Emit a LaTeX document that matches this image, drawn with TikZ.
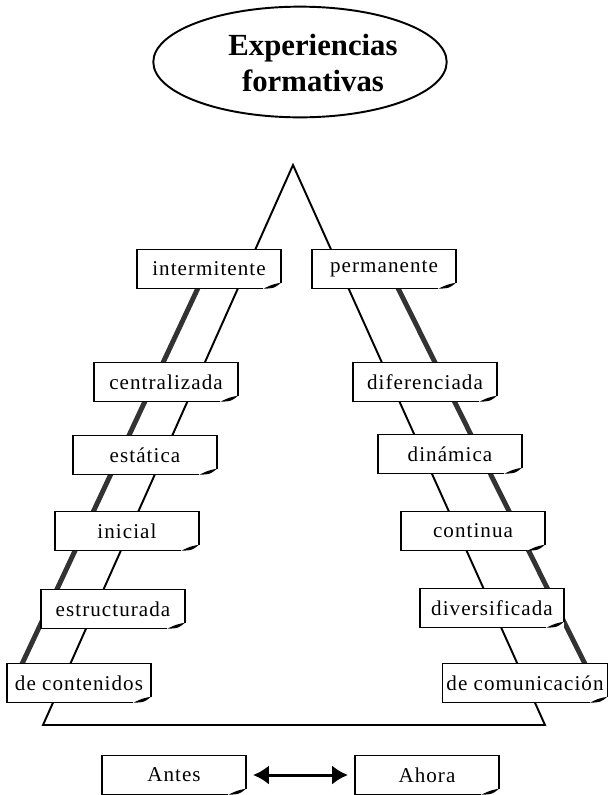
\documentclass[tikz,border=0pt]{standalone}
\usepackage{fontspec}
\setmainfont{Liberation Serif}
\newfontfamily\boxfont[LetterSpace=5]{Liberation Serif}
\usetikzlibrary{arrows.meta,calc,positioning,shapes.geometric}

\begin{document}
\begin{tikzpicture}[x=0.02cm,y=-0.02cm,
        notebox/.style={rectangle, fill=white, minimum width=81.6pt, minimum height=22pt,
            inner xsep=2pt, font=\boxfont\fontsize{12}{14}\selectfont},
        boxline/.style={line width=0.85pt, line join=miter},
        sideline/.style={line width=1.1pt, line join=miter},
        railline/.style={line width=2.8pt, black!80}]
            \useasboundingbox (0,0) rectangle (608,795);

            % Title
            \node[ellipse, draw, line width=1.1pt, minimum width=167pt, minimum height=63pt] (title) at (300,62) {};
            \node[align=center, font=\bfseries\fontsize{17.5}{21}\selectfont] (titletext) at (313,63) {Experiencias\\formativas};

            % Triangle with the two thick rails
            \coordinate (apex) at (293,165);
            \coordinate (baseL) at (43,725);
            \coordinate (baseR) at (545,725);
            \draw[sideline] (apex) -- (baseL) -- (baseR) -- cycle;
            \draw[railline] (200.8,282) -- (20.1,668);
            \draw[railline] (395,282) -- (587,668);

            % Boxes with curled corner
            \foreach \nm/\x/\y/\txt in {intermitente/209/269/intermitente, permanente/384/269/permanente,
                    centralizada/166/382/centralizada, diferenciada/425/382/diferenciada,
                    estatica/145/455/estática, dinamica/450/454/dinámica,
                    inicial/127/531/inicial, continua/473/531/continua,
                    estructurada/113/609/estructurada, diversificada/492/608/diversificada,
                    contenidos/79/683/de contenidos, comunicacion/525/683/de comunicación,
                    antes/174/775/Antes, ahora/427/775/Ahora} {
                \node[notebox] (\nm) at (\x,\y) {\txt};
                \draw[boxline] ([xshift=-10pt]\nm.south east) -- (\nm.south west) -- (\nm.north west)
                    -- (\nm.north east) -- ([yshift=3.4pt]\nm.south east);
                \fill ([xshift=-10pt]\nm.south east) .. controls ([xshift=-4pt,yshift=0.2pt]\nm.south east)
                    .. ([yshift=3.4pt]\nm.south east) .. controls ([xshift=-5pt,yshift=2.4pt]\nm.south east)
                    .. ([xshift=-10pt]\nm.south east) -- cycle;
            }

            % Antes <-> Ahora
            \draw[line width=1.7pt, {Latex[length=9pt,width=11pt]}-{Latex[length=9pt,width=11pt]},
                shorten <=4pt, shorten >=4pt] (antes) -- (ahora);
        \end{tikzpicture}
\end{document}
